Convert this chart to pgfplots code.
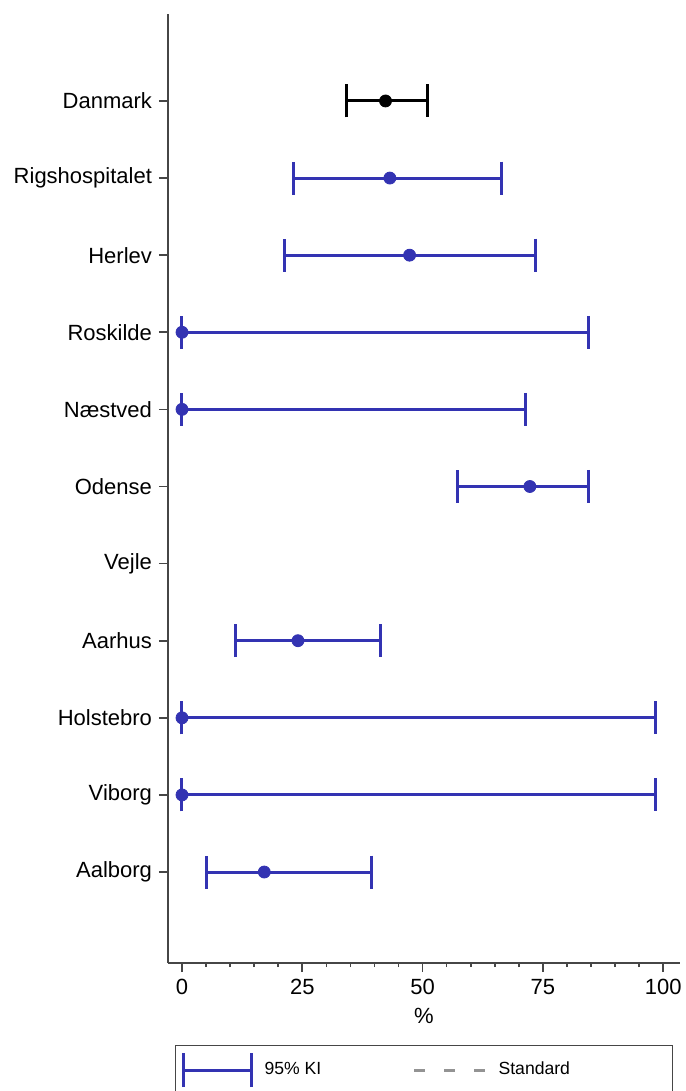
\documentclass[border=0pt]{standalone}
\usepackage{fontspec}
\setmainfont{Liberation Sans}
\usepackage{pgfplots}
\usepackage{pgfplotstable}
\pgfplotsset{compat=1.18}
\definecolor{kiblue}{RGB}{51,51,178}
\definecolor{axgray}{RGB}{70,70,70}

% y: Danmark=10 (top) ... Aalborg=0 (bottom)
\pgfplotstableread{
y est lo hi
10 42.3 34.2 51.1
}\danmark
\pgfplotstableread{
y est lo hi
9 43.2 23.1 66.3
8 47.3 21.2 73.5
7 0 0 84.5
6 0 0 71.3
5 72.3 57.2 84.5
3 24.1 11.2 41.2
2 0 0 98.5
1 0 0 98.5
0 17.1 5.1 39.3
}\hospitals

\pgfplotsset{
  ci/.style={only marks, mark=*, mark size=3pt, forget plot,
    error bars/.cd, x dir=both, x explicit,
    error mark=|,
    error bar style={line width=1.5pt, solid},
    error mark options={mark size=8.25pt, line width=1.5pt, #1}},
}

\begin{document}
\begin{tikzpicture}
\begin{axis}[
    name=ax,
    scale only axis,
    width=256pt, height=474.5pt,
    xmin=-2.91, xmax=103.5,
    ymin=-1.18, ymax=11.128,
    axis lines*=left,
    axis line style={axgray, line width=0.9pt},
    every tick/.style={axgray, line width=0.8pt},
    tick align=outside,
    major tick length=4.5pt, minor tick length=2pt,
    xtick={0,25,50,75,100},
    minor x tick num=4,
    ytick={0,1,...,10},
    yticklabels={Aalborg,Viborg,Holstebro,Aarhus,Vejle,Odense,Næstved,Roskilde,Herlev,Rigshospitalet,Danmark},
    tick label style={font=\fontsize{11}{13}\selectfont},
    label style={font=\fontsize{11}{13}\selectfont},
    /pgf/number format/assume math mode=true,
    xlabel={\%},
    clip=false,
    legend columns=2,
    legend style={
        at={(0.0137,-0.0864)}, anchor=north west,
        draw=axgray, line width=0.6pt,
        font=\fontsize{8.8}{10.5}\selectfont,
        inner xsep=3pt, inner ysep=3pt,
        /tikz/every odd column/.append style={column sep=4pt},
    },
]
\addplot[black, ci=black]
    table[x=est, y=y,
      x error plus expr=\thisrow{hi}-\thisrow{est},
      x error minus expr=\thisrow{est}-\thisrow{lo}+0.001] {\danmark};
\addplot[kiblue, ci=kiblue]
    table[x=est, y=y,
      x error plus expr=\thisrow{hi}-\thisrow{est},
      x error minus expr=\thisrow{est}-\thisrow{lo}+0.001] {\hospitals};

\addlegendimage{legend image code/.code={
    \draw[kiblue, line width=1.5pt] (0pt,0pt) -- (34pt,0pt);
    \draw[kiblue, line width=1.5pt] (0pt,-8.5pt) -- (0pt,8.5pt);
    \draw[kiblue, line width=1.5pt] (34pt,-8.5pt) -- (34pt,8.5pt);}}
\addlegendentry{\makebox[72pt][l]{95\% KI}}
\addlegendimage{legend image code/.code={
    \draw[gray!85, line width=1.5pt, dash pattern=on 5.5pt off 9.5pt] (0pt,0pt) -- (35.5pt,0pt);}}
\addlegendentry{\makebox[82pt][l]{Standard}}
\end{axis}
\pgfresetboundingbox
\path[use as bounding box] ([shift={(-84pt,-64pt)}]ax.south west) rectangle ([shift={(2.5pt,7pt)}]ax.north east);
\end{tikzpicture}
\end{document}
